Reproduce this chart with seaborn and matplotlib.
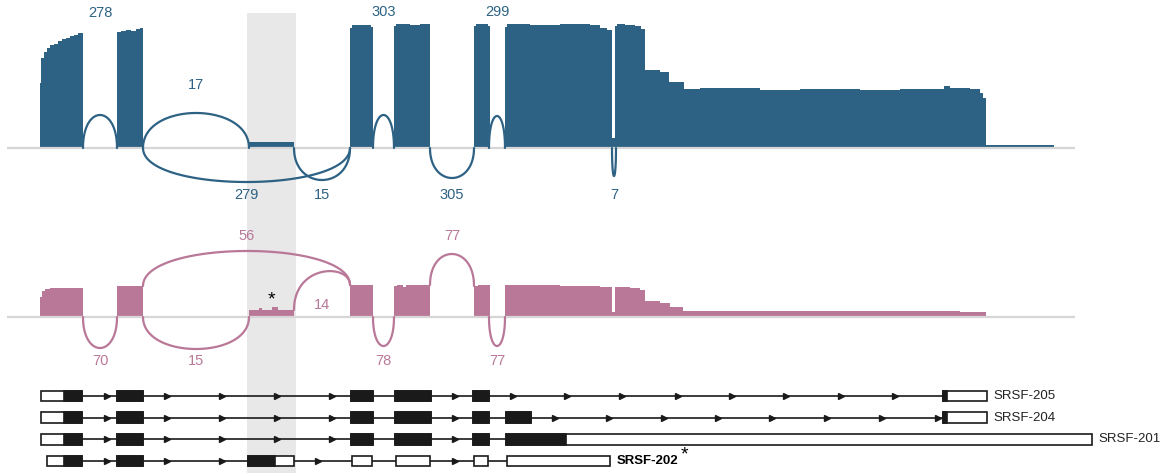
import numpy as np
import matplotlib.pyplot as plt
import seaborn as sns
from matplotlib.patches import Rectangle

sns.set_theme(style="white")
plt.rcParams['font.family'] = ['Liberation Sans', 'DejaVu Sans']

BLUE = "#2d6284"
PINK = "#b97898"
BASE = "#d6d6d6"
SHADE = "#e8e8e8"

# region of the alternative exon (shaded)
highlight = (247, 296)
track_span = (7, 1075)

# coverage, blue sample: breakpoint positions and height from there to the next breakpoint
blue_x = [40, 41, 44, 47, 50, 54, 58, 62, 66, 70, 74, 78, 83,
          117, 121, 126, 131, 136, 140, 143,
          249, 294,
          350, 352, 371, 373,
          394, 396, 410, 420, 430,
          474, 476, 488, 490,
          505, 507, 530, 560, 590, 600, 607, 612,
          615, 617, 625, 635, 641, 645, 660,
          669, 684, 700, 760, 800, 860, 900, 944, 950, 970, 980, 983, 986,
          1054]
blue_h = [65, 90, 96, 100, 103, 104, 107, 109, 110, 112, 113, 115, 0,
          116, 117, 118, 117, 119, 120, 0,
          6, 0,
          120, 123, 121, 0,
          122, 124, 123, 124, 0,
          122, 124, 122, 0,
          121, 124, 123, 124, 123, 120, 118, 10,
          122, 124, 123, 122, 119, 78, 76,
          66, 59, 60, 58, 59, 58, 59, 62, 60, 59, 55, 50, 3,
          0]

# coverage, pink sample
pink_x = [40, 42, 45, 50, 83,
          117, 143,
          249, 259, 262, 272, 278, 294,
          350, 373,
          394, 397, 403, 406, 430,
          474, 478, 490,
          505, 560, 590, 600, 612,
          615, 630, 640, 645, 660, 670, 683, 960, 986]
pink_h = [20, 26, 28, 29, 0,
          31, 0,
          7, 9, 7, 10, 7, 0,
          32, 0,
          31, 32, 30, 32, 0,
          31, 32, 0,
          32, 31, 31, 30, 5,
          30, 29, 27, 16, 14, 10, 6, 5, 0]

# junctions: donor, acceptor, read count, arc extent (+ above / - below), label offset
blue_j_start = [83, 143, 373, 489, 143, 294, 430, 612]
blue_j_end = [117, 249, 394, 505, 350, 350, 474, 616]
blue_j_count = [278, 17, 303, 299, 279, 15, 305, 7]
blue_j_arc = [33, 35, 33, 32, -34, -32, -30, -28]
blue_j_label = [135, 63, 136, 136, -47, -47, -47, -47]

pink_j_start = [83, 143, 143, 294, 373, 430, 489]
pink_j_end = [117, 249, 350, 350, 394, 474, 505]
pink_j_count = [70, 15, 56, 14, 78, 77, 77]
pink_j_arc = [-31, -32, 66, 45, -29, 63, -29]
pink_j_label = [-44, -44, 81, 12, -44, 81, -44]

# transcripts
tx_names = ["SRSF-205", "SRSF-204", "SRSF-201", "SRSF-202"]
tx_exons = [
    [(41, 82), (117, 143), (351, 373), (395, 431), (473, 489), (943, 987)],
    [(41, 82), (117, 143), (351, 373), (395, 431), (473, 489), (506, 531), (943, 987)],
    [(41, 82), (117, 143), (351, 373), (395, 431), (473, 489), (506, 1092)],
    [(47, 82), (117, 143), (248, 294), (352, 372), (396, 430), (474, 488), (507, 610)],
]
tx_cds = [(64, 947), (64, 947), (64, 566), (64, 275)]
tx_arrows = [
    [107, 167, 222, 277, 332, 455, 513, 567, 622, 678, 732, 786, 841, 895],
    [107, 167, 222, 277, 332, 455, 555, 609, 664, 718, 772, 827, 882, 938],
    [107, 167, 222, 277, 332, 455],
    [107, 167, 222, 318, 455],
]

W, H = 1167, 473
fig = plt.figure(figsize=(W / 100, H / 100), dpi=100)

bg = fig.add_axes([0, 0, 1, 1], zorder=0)
bg.set_xlim(0, W)
bg.set_ylim(H, 0)
bg.set_axis_off()
bg.axvspan(*highlight, ymin=0, ymax=1 - 13 / H, color=SHADE, lw=0)


def panel(top, bottom, base):
    ax = fig.add_axes([0, 1 - bottom / H, 1, (bottom - top) / H], zorder=1)
    ax.set_xlim(0, W)
    ax.set_ylim(-(bottom - base), base - top)
    ax.set_axis_off()
    ax.patch.set_alpha(0)
    return ax


def cov_at(xs, hs, pos):
    i = np.searchsorted(xs, pos, side='right') - 1
    return hs[i] if 0 <= i < len(hs) else 0


def sashimi(ax, xs, hs, starts, ends, counts, arcs, labels, color):
    ax.fill_between(xs, 0, hs, step='post', color=color, lw=0, zorder=2)
    ax.hlines(0, *track_span, color=BASE, lw=1.6, zorder=3)
    t = np.linspace(0, 1, 120)
    for s, e, n, a, ly in zip(starts, ends, counts, arcs, labels):
        h1 = h2 = 0
        if a > 0:
            c1, c2 = cov_at(xs, hs, s - 0.5), cov_at(xs, hs, e + 0.5)
            if a > max(c1, c2):
                h1, h2 = c1, c2
        ctrl = (a - (h1 + h2) / 8) / 0.75
        bx = (1 - t) ** 3 * s + 3 * (1 - t) ** 2 * t * s + 3 * (1 - t) * t ** 2 * e + t ** 3 * e
        by = (1 - t) ** 3 * h1 + 3 * (1 - t) ** 2 * t * ctrl + 3 * (1 - t) * t ** 2 * ctrl + t ** 3 * h2
        sns.lineplot(x=bx, y=by, sort=False, estimator=None, color=color, lw=1.6, ax=ax, zorder=4)
        ax.text((s + e) / 2, ly, str(n), color=color, fontsize=10.5, ha='center', va='center')


ax1 = panel(0, 210, 148)
sashimi(ax1, blue_x, blue_h, blue_j_start, blue_j_end, blue_j_count, blue_j_arc, blue_j_label, BLUE)

ax2 = panel(210, 375, 317)
sashimi(ax2, pink_x, pink_h, pink_j_start, pink_j_end, pink_j_count, pink_j_arc, pink_j_label, PINK)
ax2.text(271, 17, "*", color="black", fontsize=14, ha='center', va='center')

# transcript models
ax3 = fig.add_axes([0, 0, 1, 98 / H], zorder=1)
ax3.set_xlim(0, W)
ax3.set_ylim(3.554, -0.969)
ax3.set_axis_off()
ax3.patch.set_alpha(0)
bh = 0.5
for i, (name, exons, cds, arrows) in enumerate(zip(tx_names, tx_exons, tx_cds, tx_arrows)):
    ax3.hlines(i, exons[0][1], exons[-1][0], color="#1a1a1a", lw=1.2, zorder=1)
    ax3.plot(arrows, [i] * len(arrows), ls='none', marker='>', ms=4.5, color="#1a1a1a", zorder=2)
    for s, e in exons:
        ax3.add_patch(Rectangle((s, i - bh / 2), e - s, bh, fc='white', ec="#1a1a1a", lw=1.2, zorder=3))
        cs, ce = max(s, cds[0]), min(e, cds[1])
        if ce > cs:
            ax3.add_patch(Rectangle((cs, i - bh / 2), ce - cs, bh, fc="#1a1a1a", ec="#1a1a1a", lw=1.2, zorder=4))
    end = exons[-1][1]
    if i == 3:
        ax3.text(end + 7, i, name, fontsize=9.5, fontweight='bold', color="black", ha='left', va='center')
        ax3.text(end + 71, i - 0.3, "*", fontsize=14, color="black", ha='left', va='center')
    else:
        ax3.text(end + 6, i, name, fontsize=9.5, color="#222222", ha='left', va='center')

fig.savefig("out.png", dpi=100)
